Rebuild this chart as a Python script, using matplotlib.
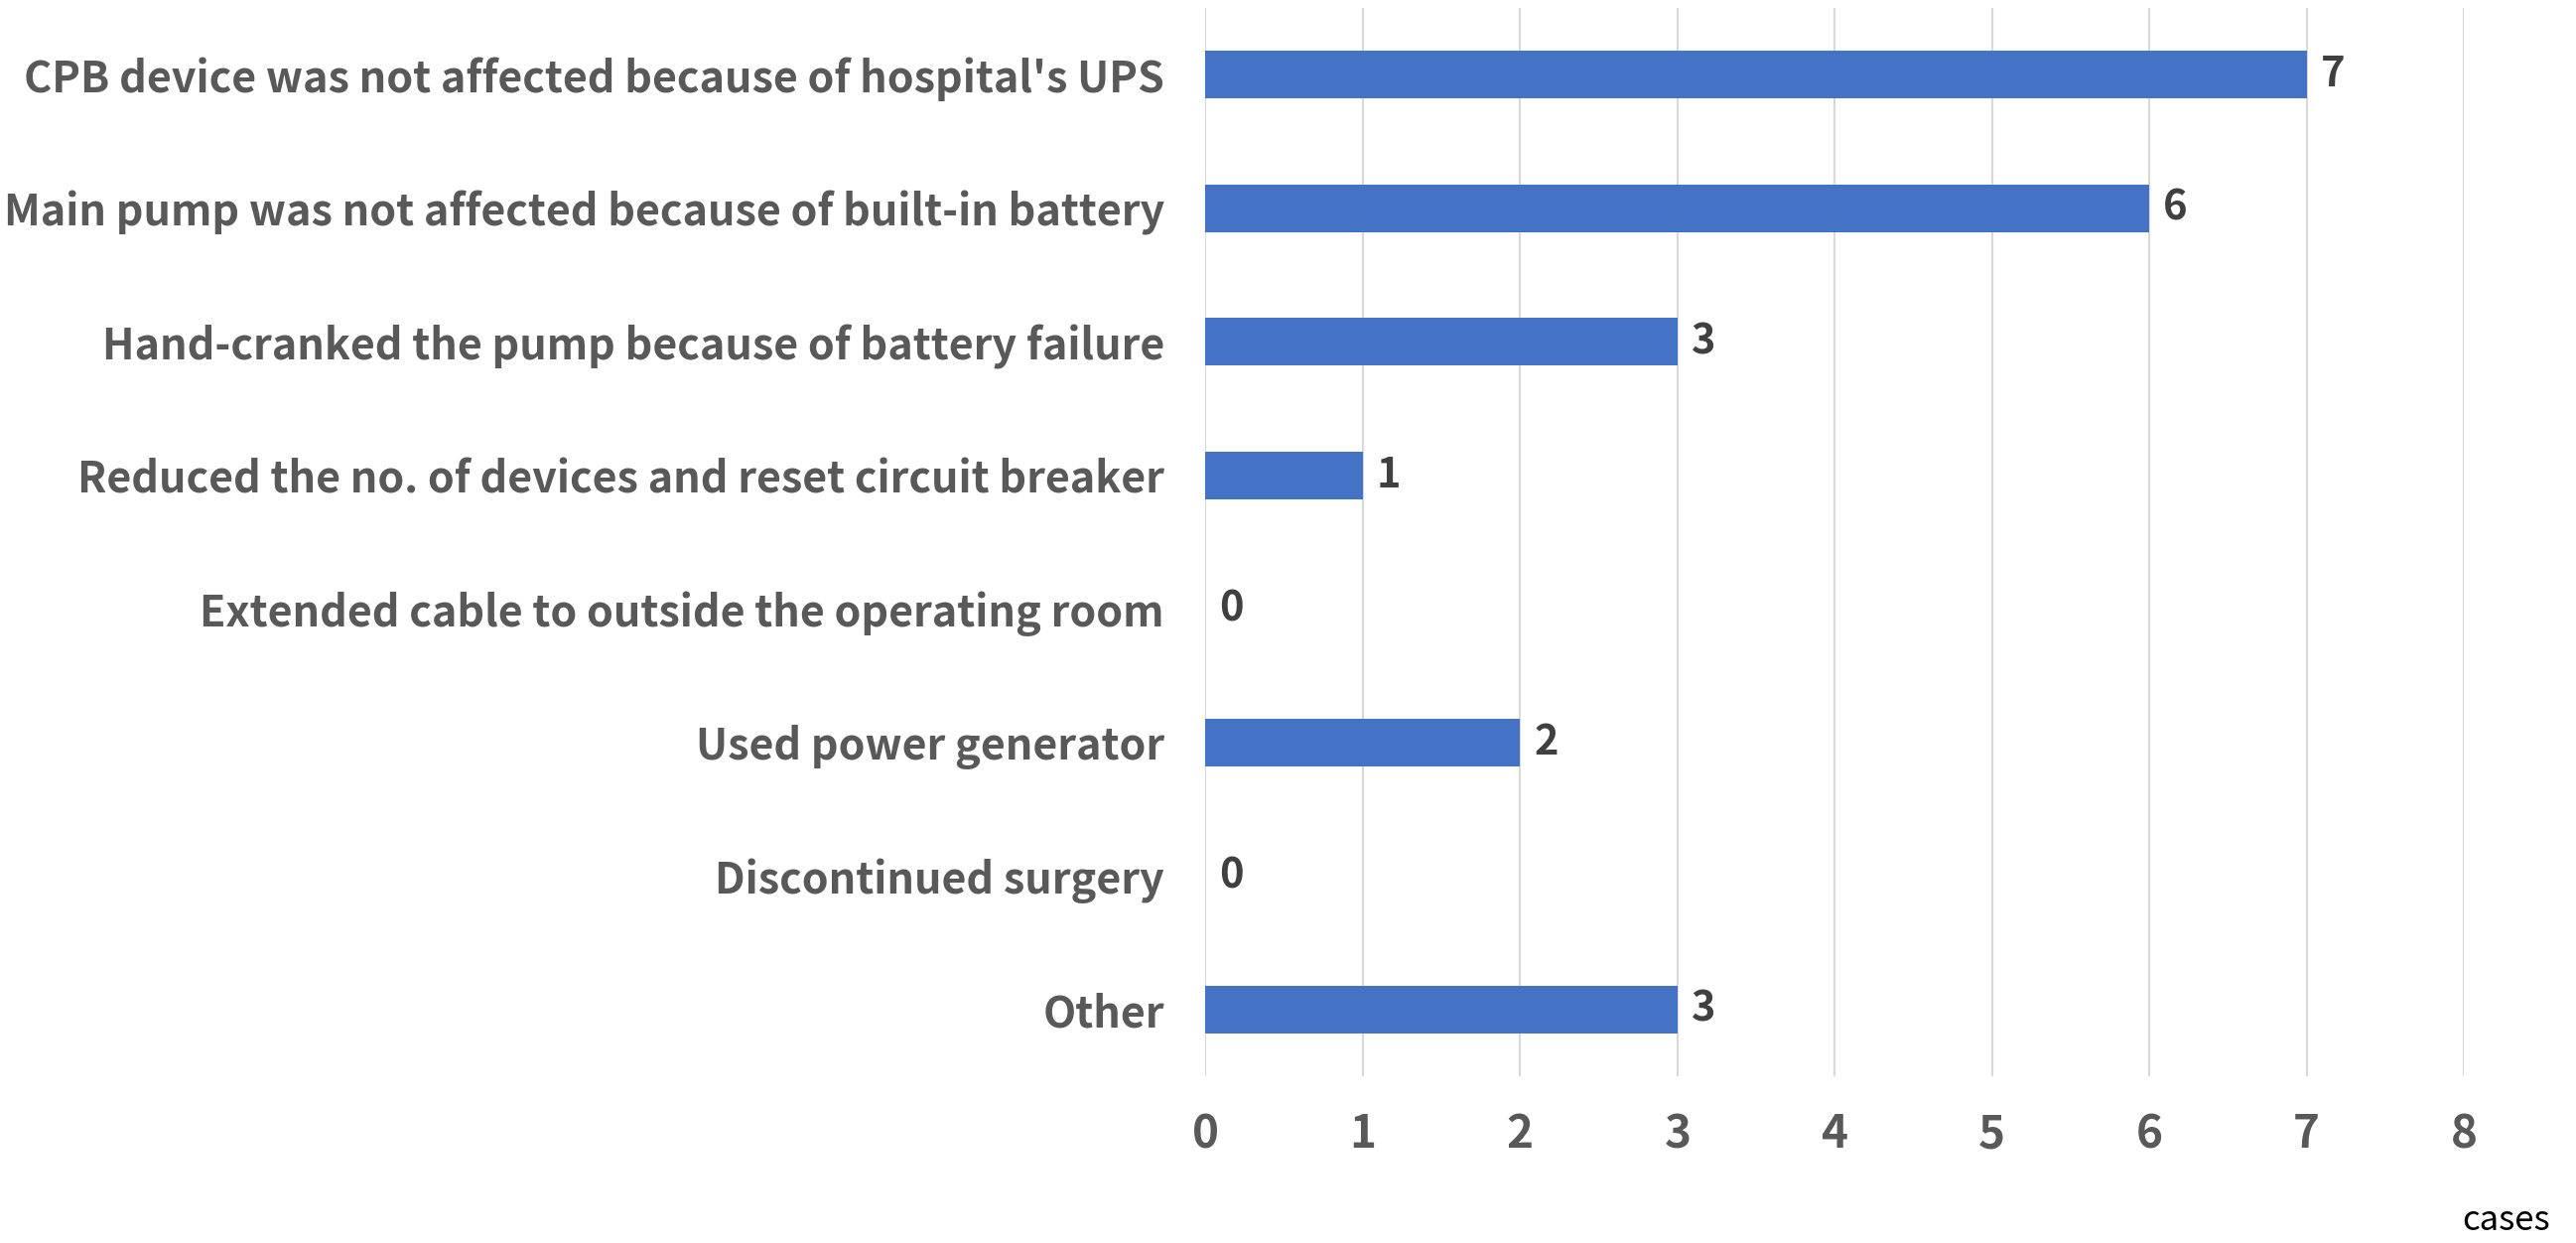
import matplotlib.pyplot as plt

plt.rcParams['font.family'] = ['Noto Sans CJK JP', 'DejaVu Sans']

categories = [
    "CPB device was not affected because of hospital's UPS",
    "Main pump was not affected because of built-in battery",
    "Hand-cranked the pump because of battery failure",
    "Reduced the no. of devices and reset circuit breaker",
    "Extended cable to outside the operating room",
    "Used power generator",
    "Discontinued surgery",
    "Other",
]
cases = [7, 6, 3, 1, 0, 2, 0, 3]
x_ticks = [0, 1, 2, 3, 4, 5, 6, 7, 8]

fig = plt.figure(figsize=(25.95, 12.52), dpi=100)
ax = fig.add_axes([0.468, 0.134, 0.4885, 0.8596])

ypos = list(range(len(categories)))
ax.barh(ypos, cases, height=0.355, color='#4472C4', zorder=3)
for y, v in zip(ypos, cases):
    ax.annotate(str(v), (v, y), xytext=(10, 0), textcoords='offset points',
                ha='left', va='center', fontsize=30, fontweight='bold', color='#404040')

ax.set_ylim(len(categories) - 0.5, -0.5)
ax.set_yticks(ypos)
ax.set_yticklabels(categories, fontsize=31, fontweight='bold', color='#595959')
ax.set_xlim(0, 8)
ax.set_xticks(x_ticks)
ax.set_xticklabels([str(t) for t in x_ticks], fontsize=33, fontweight='bold', color='#595959')
ax.tick_params(axis='both', length=0)
ax.tick_params(axis='y', pad=30)
ax.tick_params(axis='x', pad=26)
ax.grid(axis='x', color='#D9D9D9', linewidth=1.5, zorder=0)
for s in ax.spines.values():
    s.set_visible(False)

fig.text(0.99, 0.004, 'cases', ha='right', va='bottom', fontsize=25, color='#000000')

fig.savefig('out.png', dpi=100)
